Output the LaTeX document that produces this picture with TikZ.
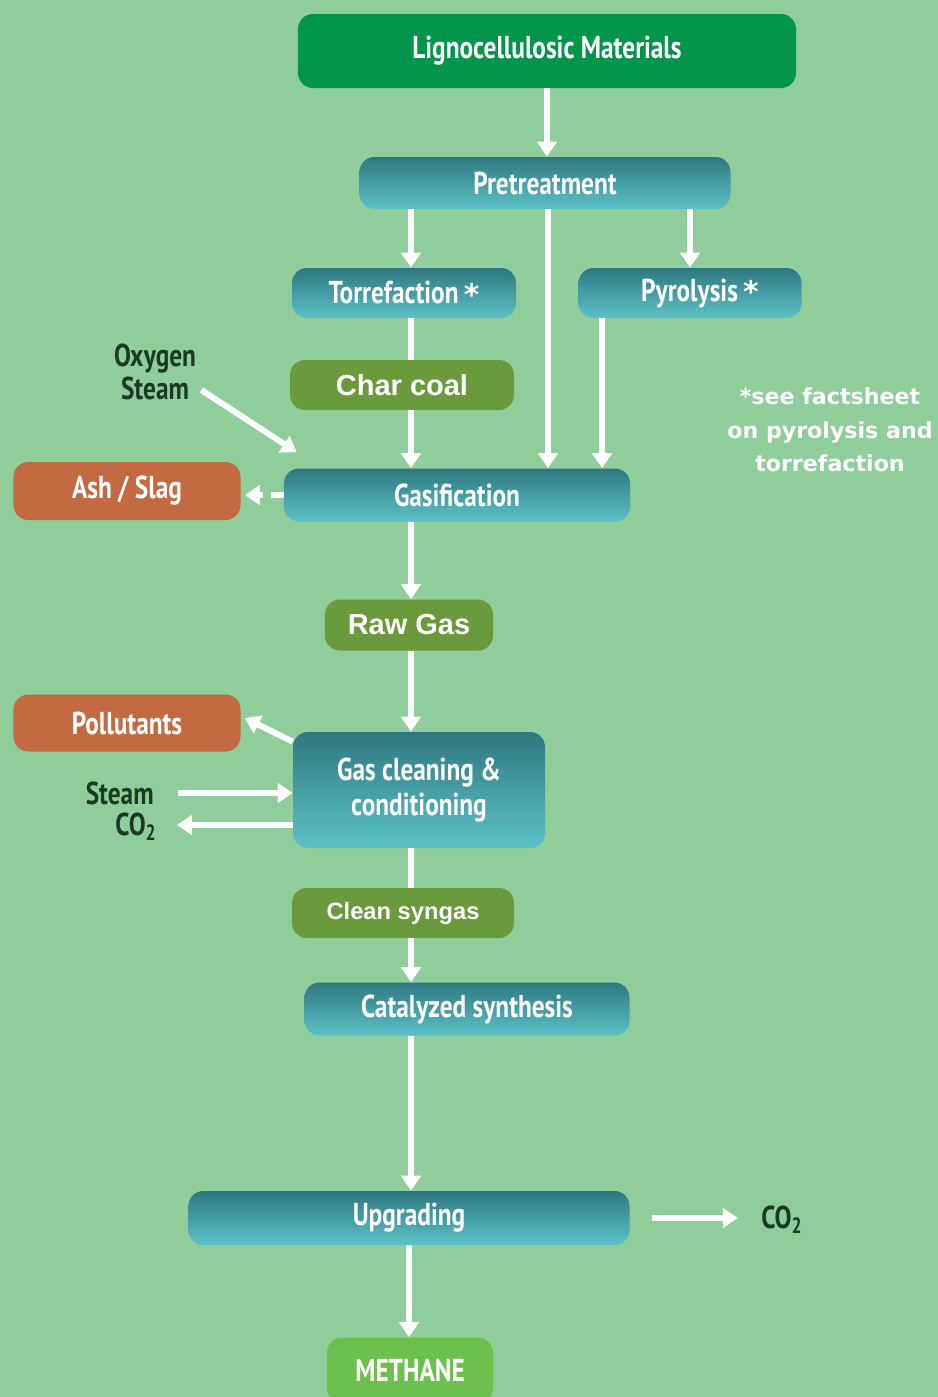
\documentclass[tikz,border=0pt]{standalone}
\usepackage{fontspec}
\setmainfont[FakeStretch=0.8]{PT Sans}
\newfontfamily\arialfont{Liberation Sans}
\newfontfamily\notefont{DejaVu Sans}
\usetikzlibrary{arrows.meta,positioning,calc}
\definecolor{bggreen}{HTML}{8FCD9B}
\definecolor{leafgreen}{HTML}{00954A}
\definecolor{tealtop}{HTML}{2F7881}
\definecolor{tealbot}{HTML}{5CC2C8}
\definecolor{olivegreen}{HTML}{6B9A3C}
\definecolor{rust}{HTML}{C46A42}
\definecolor{limegreen}{HTML}{6CC04E}
\definecolor{inkgreen}{HTML}{1B3A22}
\newcommand{\bigstar}{\,{\notefont\fontsize{17}{17}\selectfont\raisebox{-1pt}{*}}}

\begin{document}
\begin{tikzpicture}[x=0.2mm,y=-0.2mm,
  base/.style={rounded corners=3mm,align=center,text=white,inner sep=2pt},
  proc/.style={base,top color=tealtop,bottom color=tealbot,font=\bfseries\fontsize{18}{19}\selectfont},
  prod/.style={base,fill=olivegreen,font=\arialfont\bfseries\fontsize{16.5}{18}\selectfont},
  waste/.style={base,fill=rust,font=\bfseries\fontsize{18}{19}\selectfont},
  lbl/.style={text=inkgreen,inner sep=0pt,align=center,font=\bfseries\fontsize{18}{19}\selectfont},
  arr/.style={-{Triangle[length=8.5pt,width=11pt]},line width=3.4pt,white},
  link/.style={line width=3.4pt,white}
]
\fill[bggreen] (0,0) rectangle (938,1397);
\useasboundingbox (0,0) rectangle (938,1397);

% trunk positions
\coordinate (mainx) at (411,0);
\coordinate (midx) at (548,0);
\coordinate (pyrx) at (690,0);
\coordinate (sidex) at (602,0);

\node[base,fill=leafgreen,minimum width=99.6mm,minimum height=14.8mm,font=\bfseries\fontsize{18}{19}\selectfont] (ligno) at (547,51) {Lignocellulosic Materials};
\node[proc,minimum width=74.2mm,minimum height=10.4mm] (pre) at (545,183) {Pretreatment};
\node[proc,minimum width=44.8mm,minimum height=10mm] (torr) at (404,293) {Torrefaction\bigstar};
\node[proc,minimum width=44.6mm,minimum height=10mm] (pyro) at (690,293) {\hspace*{4mm}Pyrolysis\bigstar};
\node[prod,minimum width=44.8mm,minimum height=10mm] (char) at (402,385) {Char coal};
\node[proc,minimum width=69.2mm,minimum height=10.6mm] (gas) at (457,495) {Gasification};
\node[waste,minimum width=45.4mm,minimum height=11.6mm] (ash) at (127,491) {Ash / Slag};
\node[prod,minimum width=33.6mm,minimum height=10.2mm] (raw) at (409,625) {Raw Gas};
\node[waste,minimum width=45.4mm,minimum height=11.4mm] (poll) at (127,723) {Pollutants};
\node[proc,minimum width=50.4mm,minimum height=23.2mm,font=\bfseries\fontsize{18}{20}\selectfont] (clean) at (419,790) {Gas cleaning \&\\conditioning};
\node[prod,minimum width=44.4mm,minimum height=10mm,font=\arialfont\bfseries\fontsize{13.5}{15}\selectfont] (syn) at (403,913) {Clean syngas};
\node[proc,minimum width=65mm,minimum height=10.6mm] (cat) at (467,1009) {Catalyzed synthesis};
\node[proc,minimum width=88.2mm,minimum height=10.8mm] (upg) at (409,1218) {Upgrading};
\node[base,fill=limegreen,minimum width=33.2mm,minimum height=13mm,font=\bfseries\fontsize{18}{19}\selectfont] (meth) at (410,1370) {METHANE};

\node[lbl] (oxy) at (155,372) {Oxygen\\Steam};
\node[lbl,anchor=east] (steam) at (154,793) {Steam};
\node[lbl,anchor=east] (co2a) at (157,827) {CO\textsubscript{2}};
\node[lbl,anchor=west] (co2b) at (761,1220) {CO\textsubscript{2}};
\node[text=white,align=center,font=\notefont\bfseries\fontsize{12.6}{19}\selectfont] (note) at (830,430) {*see factsheet\\on pyrolysis and\\torrefaction};

\draw[arr] (ligno.south) -- (ligno.south |- pre.north);
\draw[arr] (pre.south -| mainx) -- (torr.north -| mainx);
\draw[arr] (pre.south -| pyrx) -- (pyro.north -| pyrx);
\draw[arr] (pre.south -| midx) -- (gas.north -| midx);
\draw[arr] (pyro.south -| sidex) -- (gas.north -| sidex);
\draw[link] (torr.south -| mainx) -- (char.north -| mainx);
\draw[arr] (char.south -| mainx) -- (gas.north -| mainx);
\draw[arr] ($(oxy.east)+(5,18)$) -- ($(gas.north west)+(13,-16)$);
\draw[arr,dash pattern=on 2.6mm off 1.6mm,shorten >=0.8mm] (gas.west) -- (gas.west -| ash.east);
\draw[arr] (gas.south -| mainx) -- (raw.north -| mainx);
\draw[arr] (raw.south -| mainx) -- (clean.north -| mainx);
\draw[arr] ($(clean.north west)+(0,10)$) -- ($(poll.east)+(4,-5)$);
\draw[arr] ($(steam.east)+(24,0)$) -- (steam.east -| clean.west);
\draw[arr] ($(clean.west |- co2a.east)+(0,-2)$) -- ($(co2a.east)+(20,-2)$);
\draw[link] (clean.south -| mainx) -- (syn.north -| mainx);
\draw[arr] (syn.south -| mainx) -- (cat.north -| mainx);
\draw[arr] (cat.south -| mainx) -- (upg.north -| mainx);
\draw[arr] ($(upg.east)+(22,0)$) -- ($(upg.east)+(108,0)$);
\draw[arr] (upg.south) -- (upg.south |- meth.north);
\end{tikzpicture}
\end{document}
